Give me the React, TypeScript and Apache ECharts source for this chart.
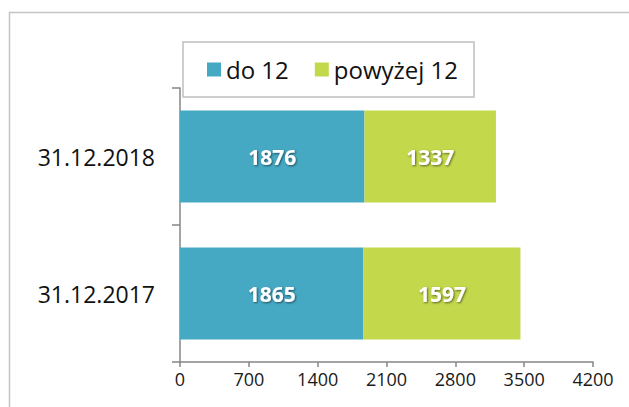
import React, { useEffect, useRef } from "react";
import * as echarts from "echarts";

const categories = ["31.12.2017", "31.12.2018"];
const seriesNames = ["do 12", "powyżej 12"];
const do12 = [1865, 1876];
const powyzej12 = [1597, 1337];
const xTicks = { min: 0, max: 4200, interval: 700 };
const colors = ["#46A9C4", "#C4D84B"];

export default function App() {
  const ref = useRef<HTMLDivElement>(null);
  useEffect(() => {
    if (!ref.current) return;
    const chart = echarts.init(ref.current, null, { renderer: "svg" });
    const labelStyle = {
      show: true,
      position: "inside",
      color: "#ffffff",
      fontFamily: "Open Sans",
      fontWeight: "bold",
      fontSize: 21,
      textShadowColor: "rgba(0,0,0,0.55)",
      textShadowBlur: 2,
      textShadowOffsetX: 1,
      textShadowOffsetY: 1,
    };
    chart.setOption({
      animation: false,
      backgroundColor: "#ffffff",
      color: colors,
      graphic: [
        {
          type: "rect",
          shape: { x: 9.5, y: 12.5, width: 700, height: 500 },
          style: { fill: "none", stroke: "#c4c4c4", lineWidth: 1.5 },
          silent: true,
          z: -10,
        },
      ],
      legend: {
        data: seriesNames,
        left: 183,
        top: 42,
        orient: "horizontal",
        backgroundColor: "#ffffff",
        borderColor: "#bfbfbf",
        borderWidth: 1.5,
        padding: [14, 16, 14, 24],
        itemWidth: 14,
        itemHeight: 14,
        itemGap: 26,
        icon: "rect",
        textStyle: { fontFamily: "Open Sans", fontSize: 24, color: "#111", lineHeight: 27 },
        z: 10,
      },
      grid: { left: 180, right: 36, top: 88, bottom: 45, containLabel: false },
      xAxis: {
        type: "value",
        min: xTicks.min,
        max: xTicks.max,
        interval: xTicks.interval,
        splitLine: { show: false },
        axisLine: { show: true, lineStyle: { color: "#868686", width: 1.5 } },
        axisTick: { show: true, length: 5, lineStyle: { color: "#868686", width: 1.5 } },
        axisLabel: {
          fontFamily: "Open Sans",
          fontSize: 18,
          color: "#1a1a1a",
          margin: 8,
          formatter: (v: number) => String(v),
        },
      },
      yAxis: {
        type: "category",
        data: categories,
        axisLine: { show: true, lineStyle: { color: "#868686", width: 1.5 } },
        axisTick: { show: true, length: 8, lineStyle: { color: "#868686", width: 1.5 } },
        axisLabel: { fontFamily: "Open Sans", fontSize: 23, color: "#111", margin: 25 },
      },
      series: [
        {
          name: seriesNames[0],
          type: "bar",
          stack: "total",
          data: do12,
          barCategoryGap: "33%",
          label: labelStyle,
        },
        {
          name: seriesNames[1],
          type: "bar",
          stack: "total",
          data: powyzej12,
          barCategoryGap: "33%",
          label: labelStyle,
        },
      ],
    });
    return () => chart.dispose();
  }, []);
  return <div ref={ref} style={{ width: 629, height: 407, position: "absolute", left: 0, top: 0 }} />;
}
